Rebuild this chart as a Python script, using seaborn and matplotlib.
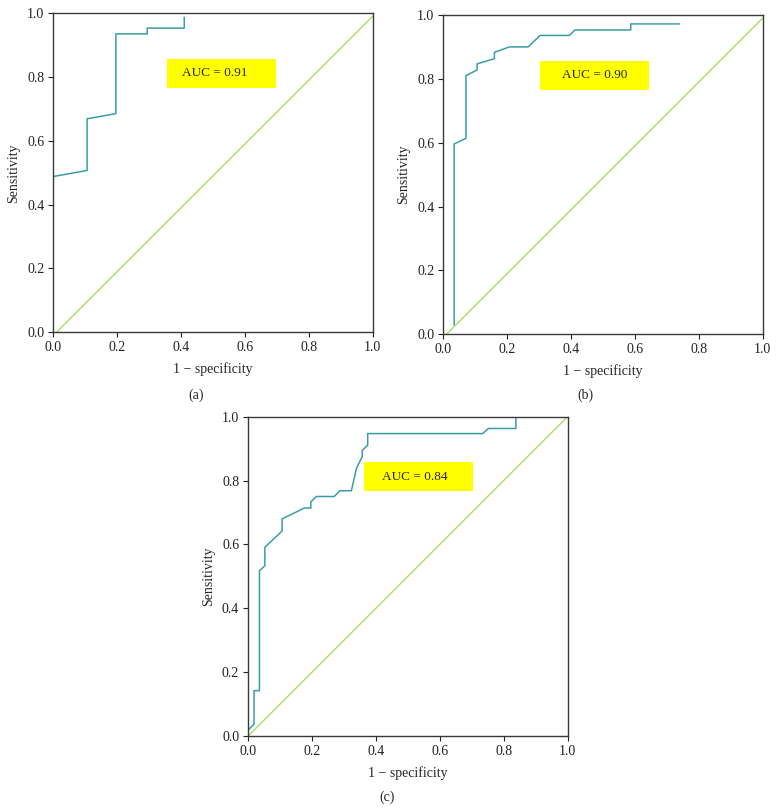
import matplotlib
matplotlib.use("Agg")
import matplotlib.pyplot as plt
import seaborn as sns
import pandas as pd

# ROC curve points (1 - specificity, sensitivity)
fpr_a = [0.0, 0.106, 0.106, 0.196, 0.196, 0.294, 0.294, 0.41, 0.41]
tpr_a = [0.488, 0.507, 0.669, 0.685, 0.935, 0.935, 0.953, 0.953, 0.987]

fpr_b = [0.034, 0.034, 0.071, 0.071, 0.106, 0.106, 0.16, 0.16, 0.207,
         0.266, 0.303, 0.395, 0.412, 0.587, 0.587, 0.739]
tpr_b = [0.029, 0.596, 0.614, 0.81, 0.828, 0.847, 0.863, 0.883, 0.90,
         0.90, 0.936, 0.936, 0.953, 0.953, 0.972, 0.972]

fpr_c = [0.0, 0.018, 0.018, 0.035, 0.035, 0.052, 0.052, 0.106, 0.106,
         0.176, 0.196, 0.196, 0.213, 0.269, 0.287, 0.323, 0.331, 0.339,
         0.357, 0.357, 0.374, 0.374, 0.734, 0.752, 0.838, 0.838]
tpr_c = [0.019, 0.037, 0.142, 0.142, 0.517, 0.533, 0.591, 0.642, 0.68,
         0.714, 0.714, 0.733, 0.75, 0.75, 0.768, 0.768, 0.804, 0.839,
         0.875, 0.894, 0.911, 0.947, 0.947, 0.963, 0.963, 1.0]

auc_labels = ["AUC = 0.91", "AUC = 0.90", "AUC = 0.84"]
captions = ["(a)", "(b)", "(c)"]
ticks = [0.0, 0.2, 0.4, 0.6, 0.8, 1.0]

# chance lines as drawn in each panel
diag_x = [[0.01, 1.0], [0.01, 1.0], [0.0, 1.0]]
diag_y = [[0.0, 0.99], [0.0, 0.99], [0.0, 1.0]]

sns.set_style("ticks")
plt.rcParams["font.family"] = ["Liberation Serif", "DejaVu Serif"]
plt.rcParams["font.size"] = 10

curve_color = "#3a9ea5"
diag_color = "#a8e060"

fig = plt.figure(figsize=(7.78, 8.10), dpi=100)
positions = [
    [0.0685, 0.5898, 0.4105, 0.3940],
    [0.5698, 0.5873, 0.4105, 0.3942],
    [0.3191, 0.0914, 0.4105, 0.3942],
]
box_spans = [(0.356, 0.697), (0.303, 0.643), (0.362, 0.703)]
text_x = [0.507, 0.473, 0.521]
caption_pos = [(196, 395), (585, 395), (387, 797)]

curves = [(fpr_a, tpr_a), (fpr_b, tpr_b), (fpr_c, tpr_c)]

for i, (fpr, tpr) in enumerate(curves):
    ax = fig.add_axes(positions[i])
    df = pd.DataFrame({"fpr": fpr, "tpr": tpr})
    sns.lineplot(data=df, x="fpr", y="tpr", ax=ax, sort=False,
                 estimator=None, color=curve_color, linewidth=1.1)
    sns.lineplot(x=diag_x[i], y=diag_y[i], ax=ax, sort=False,
                 estimator=None, color=diag_color, linewidth=1.0)
    ax.set_xlim(0, 1)
    ax.set_ylim(0, 1)
    ax.set_xticks(ticks)
    ax.set_yticks(ticks)
    ax.set_xticklabels([f"{t:.1f}" for t in ticks])
    ax.set_yticklabels([f"{t:.1f}" for t in ticks])
    ax.tick_params(length=3.5, width=0.8, colors="#222222", pad=3)
    for sp in ax.spines.values():
        sp.set_color("#3a3a3a")
        sp.set_linewidth(1.0)
    ax.set_xlabel("1 − specificity", labelpad=6)
    ax.set_ylabel("Sensitivity", labelpad=5)

    x0, x1 = box_spans[i]
    ax.axhspan(0.766, 0.857, xmin=x0, xmax=x1, color="#ffff00", zorder=3, lw=0)
    ax.text(text_x[i], 0.8115, auc_labels[i], ha="center", va="center",
            fontsize=9.5, zorder=4)

    cx, cy = caption_pos[i]
    fig.text(cx / 778, 1 - cy / 810, captions[i], ha="center", va="center",
             fontsize=10)

fig.savefig("out.png", dpi=100)
